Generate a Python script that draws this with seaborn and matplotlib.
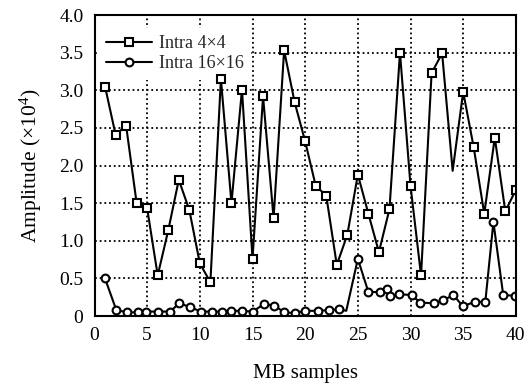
import numpy as np
import pandas as pd
import matplotlib
matplotlib.use("Agg")
import matplotlib.pyplot as plt
import seaborn as sns

# ---- data ----
x4 = list(range(1, 41))
y4 = [3.05, 2.41, 2.53, 1.50, 1.43, 0.54, 1.14, 1.81, 1.41, 0.70,
      0.45, 3.15, 1.50, 3.01, 0.76, 2.92, 1.30, 3.53, 2.84, 2.32,
      1.73, 1.60, 0.68, 1.08, 1.88, 1.36, 0.85, 1.42, 3.50, 1.73,
      0.54, 3.23, 3.49, 1.93, 2.98, 2.24, 1.36, 2.37, 1.39, 1.68]
marked4 = [i for i in range(40) if i != 33]

x16 = [0.97, 2.07, 3.11, 4.10, 4.92, 6.0, 7.17, 8.05, 9.07, 10.1,
       11.16, 12.14, 12.93, 13.98, 15.02, 16.1, 17.07, 18.0, 19.0, 20.0,
       21.25, 22.3, 23.25, 23.9, 25.0, 26.0, 27.1, 27.8, 28.06, 28.9,
       30.1, 30.9, 32.2, 33.1, 34.07, 34.97, 36.1, 37.1, 37.87, 38.8, 39.9]
y16 = [0.51, 0.08, 0.05, 0.05, 0.06, 0.06, 0.06, 0.17, 0.12, 0.06,
       0.06, 0.06, 0.07, 0.07, 0.06, 0.16, 0.14, 0.05, 0.04, 0.07,
       0.07, 0.08, 0.09, 0.07, 0.76, 0.32, 0.32, 0.36, 0.27, 0.29,
       0.28, 0.18, 0.17, 0.21, 0.28, 0.13, 0.19, 0.19, 1.25, 0.28, 0.27]
marked16 = [i for i in range(len(x16)) if i != 23]

labels = ["Intra 4×4", "Intra 16×16"]
xticks = [0, 5, 10, 15, 20, 25, 30, 35, 40]
yticks = [0, 0.5, 1.0, 1.5, 2.0, 2.5, 3.0, 3.5, 4.0]
ytick_labels = ["0", "0.5", "1.0", "1.5", "2.0", "2.5", "3.0", "3.5", "4.0"]

sns.set_style("white")
plt.rcParams["font.family"] = ["Liberation Serif", "DejaVu Serif"]
plt.rcParams["mathtext.fontset"] = "custom"
plt.rcParams["mathtext.rm"] = "Liberation Serif"
plt.rcParams["mathtext.it"] = "Liberation Serif:italic"

fig = plt.figure(figsize=(5.28, 3.85), dpi=100)
ax = fig.add_axes([0.179, 0.179, 0.798, 0.782])

df4 = pd.DataFrame({"x": x4, "y": y4})
df16 = pd.DataFrame({"x": x16, "y": y16})

sns.lineplot(data=df4, x="x", y="y", ax=ax, color="black", lw=1.5,
             marker="s", markevery=marked4, ms=5.2, mfc="white",
             mec="black", mew=1.5, label=labels[0], zorder=3)
sns.lineplot(data=df16, x="x", y="y", ax=ax, color="black", lw=1.5,
             marker="o", markevery=marked16, ms=5.6, mfc="white",
             mec="black", mew=1.5, label=labels[1], zorder=3)

ax.set_xlim(0, 40)
ax.set_ylim(0, 4.0)
ax.set_xticks(xticks)
ax.set_yticks(yticks)
ax.set_yticklabels(ytick_labels)
ax.tick_params(axis="both", length=0, labelsize=14, colors="black", pad=8)
ax.grid(True, color="black", linestyle=(0, (1, 1.6)), linewidth=1.3)
ax.set_axisbelow(True)
for s in ax.spines.values():
    s.set_color("black")
    s.set_linewidth(1.5)
    s.set_zorder(4)

ax.set_xlabel("MB samples", fontsize=15, color="black", labelpad=14)
ax.set_ylabel("Amplitude (×10$^4$)", fontsize=15.5, color="black", labelpad=11)

leg = ax.legend(loc="upper left", bbox_to_anchor=(0.011, 0.958),
                frameon=True, fontsize=13, handlelength=2.5,
                handletextpad=0.4, labelspacing=0.2, borderaxespad=0.0,
                borderpad=0.4, facecolor="white", edgecolor="none",
                framealpha=1.0, fancybox=False)
leg.set_zorder(2)

fig.savefig("out.png", dpi=100)
